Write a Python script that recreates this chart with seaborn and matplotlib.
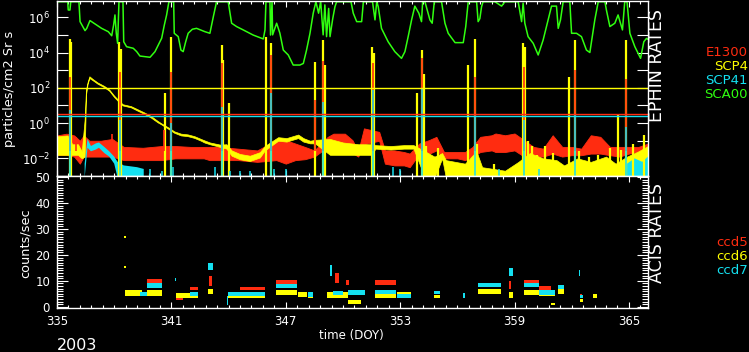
import numpy as np
import pandas as pd
import matplotlib
matplotlib.use("Agg")
import matplotlib.pyplot as plt
import seaborn as sns
from matplotlib.ticker import FixedLocator, MultipleLocator, FuncFormatter

# ---------------- data ----------------
# EPHIN SCA00 (green), log10 of particles/cm2 Sr s
sca00_doy = [335.0, 335.56, 335.59, 335.68, 335.72, 336.15, 336.21, 336.47, 336.56, 336.73,
             336.99, 337.34, 337.69, 337.87, 337.97, 338.04, 338.11, 338.18, 338.25, 338.46,
             338.50, 338.65, 339.0, 339.18, 339.35, 339.88, 340.14, 340.49, 340.63, 340.75,
             340.87, 341.12, 341.15, 341.36, 341.50, 341.62, 341.75, 341.88, 342.10, 342.32,
             342.76, 343.02, 343.20, 343.37, 343.98, 344.16, 344.42, 344.77, 345.29, 345.82,
             345.91, 345.96, 346.17, 346.20, 346.28, 346.31, 346.52, 346.69, 346.87, 347.13,
             347.39, 347.74, 347.92, 348.09, 348.27, 348.44, 348.58, 348.72, 348.83, 348.96,
             349.05, 349.14, 349.25, 349.32, 349.46, 349.58, 349.67, 350.42, 350.54, 350.72,
             350.98, 351.07, 351.55, 351.68, 351.77, 351.85, 352.02, 352.37, 352.72, 353.07,
             353.25, 353.42, 353.60, 353.77, 353.98, 354.12, 354.18, 354.30, 354.56, 354.68,
             354.79, 355.17, 355.35, 355.52, 355.88, 356.31, 356.44, 356.57, 357.01, 357.09,
             357.18, 357.27, 357.35, 357.97, 358.32, 358.49, 359.19, 359.37, 359.45, 359.54,
             359.71, 359.98, 360.24, 360.50, 360.76, 360.94, 361.20, 361.29, 361.41, 361.55,
             361.90, 361.99, 362.25, 362.51, 362.77, 362.95, 363.21, 363.39, 363.74, 363.82,
             364.00, 364.26, 364.43, 364.66, 364.78, 364.90, 365.05, 365.31, 365.61, 365.78,
             365.92, 366.0]
sca00_log = [6.88, 6.88, 6.41, 6.41, 6.88, 6.88, 5.75, 5.24, 5.37, 5.81,
             5.62, 5.37, 5.18, 4.95, 5.56, 6.13, 5.09, 4.52, 6.88, 6.88,
             4.61, 4.33, 4.24, 4.05, 3.80, 3.73, 4.05, 4.81, 5.56, 6.13,
             6.88, 6.88, 5.09, 4.90, 4.14, 4.05, 4.61, 5.09, 5.32, 5.37,
             5.18, 5.09, 6.03, 6.88, 6.88, 5.66, 5.47, 5.28, 4.99, 4.77,
             5.28, 6.88, 6.88, 4.99, 6.88, 5.00, 5.66, 5.10, 4.14, 3.86,
             3.29, 3.29, 3.38, 4.14, 5.09, 6.23, 6.88, 6.23, 6.88, 5.00,
             6.70, 4.90, 6.50, 4.90, 5.90, 6.60, 6.88, 6.88, 6.23, 5.75,
             5.75, 6.88, 6.88, 5.85, 6.88, 6.60, 5.37, 4.61, 4.05, 3.67,
             4.05, 4.90, 5.85, 6.63, 6.23, 5.75, 6.88, 6.88, 5.85, 5.66,
             6.88, 6.88, 5.66, 5.09, 4.56, 4.56, 5.47, 6.88, 6.88, 5.75,
             5.92, 6.60, 6.88, 6.88, 6.63, 6.88, 6.88, 5.75, 6.80, 5.66,
             4.90, 4.52, 3.86, 4.71, 5.85, 6.63, 6.63, 5.37, 5.85, 6.88,
             6.88, 5.09, 5.09, 4.90, 4.14, 4.00, 5.85, 6.88, 6.88, 6.40,
             5.47, 5.66, 6.13, 5.28, 6.88, 6.88, 5.09, 4.33, 3.67, 4.61,
             4.80, 4.75]

# E1300 (red) background band: time, low, high (log10)
e1300_doy = [335.0, 335.5, 335.9, 336.2, 336.4, 336.7, 337.3, 337.9, 338.5, 339.5, 340.5,
             341.2, 342.0, 342.7, 343.0, 343.5, 344.5, 345.5, 346.5, 347.0, 347.5, 348.0,
             348.5, 349.2, 349.5, 349.9, 350.1, 350.5, 350.8, 351.1, 351.9, 352.2, 352.7,
             353.2, 353.5, 354.0, 354.5, 354.9, 355.3, 356.0, 356.4, 356.8, 357.2, 357.8,
             358.0, 358.5, 359.0, 359.5, 360.0, 360.5, 361.0, 361.5, 362.0, 362.5, 363.0,
             363.5, 364.0, 364.5, 365.0, 365.5, 366.0]
e1300_lo = [-1.8, -1.8, -1.9, -2.3, -1.9, -1.9, -1.9, -1.9, -2.1, -2.1, -2.1,
            -2.0, -2.0, -2.0, -2.1, -2.1, -2.1, -2.2, -2.1, -2.3, -2.1, -2.05,
            -1.9, -1.35, -1.35, -1.35, -1.35, -1.7, -1.9, -1.2, -1.0, -2.3, -2.4,
            -2.4, -2.5, -1.75, -1.75, -1.55, -2.0, -2.0, -2.1, -1.9, -1.64, -1.55,
            -1.64, -1.64, -1.55, -1.9, -1.9, -1.9, -1.73, -1.9, -1.82, -1.82, -1.73,
            -1.73, -1.82, -1.9, -1.73, -1.64, -1.55]
e1300_hi = [-0.7, -0.6, -0.7, -1.0, -0.7, -1.0, -1.0, -0.9, -1.35, -1.4, -1.3,
            -1.3, -1.35, -1.35, -1.35, -1.35, -1.45, -1.55, -0.97, -0.97, -1.16, -1.35,
            -1.55, -0.78, -0.6, -0.6, -0.6, -0.97, -1.6, -0.3, -0.5, -1.55, -1.55,
            -1.64, -1.73, -1.16, -0.97, -0.78, -1.64, -1.64, -1.64, -1.35, -0.78, -0.69,
            -0.59, -0.69, -0.59, -0.97, -1.35, -1.45, -0.69, -1.35, -1.35, -1.45, -0.69,
            -0.78, -1.35, -1.35, -1.35, -1.35, -1.16]
e1300_spike_doy = [335.70, 336.0, 337.9, 338.30, 340.62, 341.00, 343.67, 346.25, 348.55, 348.97,
                   351.58, 354.16, 356.93, 359.50, 362.15, 364.87]
e1300_spike_log = [2.63, -0.8, -0.6, 2.91, -0.4, 2.91, 3.39, 3.86, 1.3, 3.5,
                   3.39, 3.67, 2.63, 3.2, 3.0, 2.5]

# SCP4 (yellow) band: time, low, high (log10)
scp4_doy = [335.0, 335.55, 335.8, 336.1, 336.3, 336.45, 336.52, 336.61, 336.70, 336.87,
            337.13, 337.48, 337.74, 338.0, 338.18, 338.44, 338.88, 339.23, 339.58, 339.93,
            340.28, 340.45, 340.89, 341.15, 341.5, 341.85, 342.2, 342.55, 342.73, 343.02,
            343.55, 343.89, 344.16, 344.59, 345.12, 345.64, 345.9, 346.6, 347.04, 347.65,
            347.92, 348.27, 348.53, 349.32, 350.0, 350.8, 351.5, 351.7, 352.5, 353.2,
            353.7, 354.3, 354.8, 355.2, 355.4, 356.4, 357.0, 357.3, 358.5, 359.2,
            359.8, 360.5, 361.2, 361.6, 362.3, 363.0, 363.8, 364.3, 364.9, 365.5, 366.0]
scp4_lo = [-1.8, -1.8, -1.8, -1.8, -2.0, -1.9, 1.6, 2.25, 2.55, 2.43,
           2.23, 2.03, 1.83, 1.47, 1.27, 1.0, 0.89, 0.70, 0.52, 0.31,
           0.04, -0.06, -0.36, -0.55, -0.7, -0.74, -0.84, -1.0, -1.1, -1.2,
           -1.35, -1.45, -1.85, -2.05, -2.15, -1.95, -1.55, -1.0, -1.05, -0.85,
           -1.05, -1.15, -1.15, -1.8, -1.8, -1.8, -1.8, -1.45, -1.5, -1.45,
           -1.45, -3.1, -3.1, -2.0, -3.1, -3.1, -3.1, -3.1, -3.1, -3.1,
           -3.1, -3.1, -3.1, -3.1, -3.1, -3.1, -3.1, -3.1, -3.1, -3.1, -3.1]
scp4_hi = [-0.75, -0.7, -1.2, -1.2, -1.6, 0.2, 1.9, 2.35, 2.65, 2.5,
           2.3, 2.1, 1.9, 1.55, 1.35, 1.07, 0.96, 0.78, 0.6, 0.4,
           0.12, 0.0, -0.28, -0.47, -0.6, -0.64, -0.74, -0.9, -0.98, -1.1,
           -1.22, -1.2, -1.55, -1.75, -1.85, -1.65, -1.3, -0.8, -0.85, -0.65,
           -0.85, -1.0, -0.95, -0.9, -1.1, -1.2, -1.2, -1.25, -1.3, -1.25,
           -1.25, -1.6, -1.9, -1.7, -2.1, -2.3, -1.6, -2.5, -2.7, -2.2,
           -1.7, -2.0, -2.1, -2.4, -2.0, -2.2, -1.9, -2.3, -1.9, -1.6, -1.3]
scp4_spike_doy = [335.68, 335.74, 338.25, 338.38, 340.66, 340.98, 343.64, 343.70, 344.04, 345.96,
                  346.25, 348.55, 348.95, 349.08, 351.54, 351.62, 353.86, 354.12, 354.26, 356.57,
                  356.93, 359.45, 359.55, 361.85, 362.15, 364.44, 364.85,
                  354.35, 355.0, 357.05, 357.9, 359.7, 359.9, 360.2, 360.6, 361.0, 362.4,
                  362.9, 363.4, 364.0, 364.6, 365.2, 365.8]
scp4_spike_log = [4.75, 4.6, 4.61, 4.2, 1.7, 4.9, 4.43, 3.6, 1.11, 4.9,
                  4.52, 3.48, 4.71, 3.3, 4.33, 4.0, 1.7, 4.14, 2.8, 3.3,
                  4.75, 4.52, 4.3, 2.63, 4.71, 0.5, 4.71,
                  -1.3, -1.4, -1.2, -2.3, -1.0, -1.3, -1.8, -1.3, -1.7, -1.6,
                  -1.9, -1.8, -1.4, -1.5, -1.2, -0.7]

# SCP41 (cyan) band: time, low, high (log10); NaN separates pieces
scp41_doy = [336.45, 336.6, 336.78, 337.04, 337.2, 337.48, 337.74, 338.0, 338.18, 338.5,
             339.2, 339.55, 339.6, 364.9, 365.3, 365.7, 366.0]
scp41_lo = [-3.1, -1.4, -1.6, -1.5, -1.4, -1.7, -1.9, -2.3, -3.1, -3.1,
            -3.1, -3.1, np.nan, -3.1, -3.1, -3.1, -3.1]
scp41_hi = [-2.3, -0.9, -1.3, -1.15, -1.1, -1.35, -1.6, -1.9, -2.2, -2.4,
            -2.5, -2.6, np.nan, -2.3, -2.0, -2.2, -1.9]
scp41_spike_doy = [335.70, 338.30, 341.00, 343.67, 346.25, 348.97, 351.58, 354.16, 356.93, 359.50,
                   362.15, 364.87, 339.9, 340.5, 341.1, 343.3, 344.1, 344.6, 345.1, 346.4,
                   347.0, 352.65, 353.0, 358.2, 360.3]
scp41_spike_log = [0.73, 0.16, 0.0, 0.92, 1.68, 1.2, 1.87, 1.99, 0.4, 0.16,
                   0.5, -0.2, -2.6, -2.7, -2.5, -2.5, -2.7, -2.7, -2.7, -2.6,
                   -2.6, -2.5, -2.6, -2.6, -2.6]

# limit lines
scp4_limit = 100.0
e1300_limit = 3.1
scp41_limit = 2.6

# ACIS rates (counts/sec) clusters: start, end, low, high
ccd5_start = [339.7, 341.22, 342.0, 342.95, 344.6, 346.48, 349.6, 350.15, 350.4, 351.7, 354.44, 358.7, 359.5, 360.3, 362.45]
ccd5_end = [340.49, 341.6, 342.4, 343.15, 345.9, 347.57, 349.8, 350.3, 350.9, 352.8, 354.47, 358.8, 360.3, 360.9, 362.55]
ccd5_lo = [8.3, 2.4, 6.3, 8.0, 6.3, 8.8, 9.0, 8.5, 1.5, 8.3, 5.5, 7.0, 9.0, 6.5, 4.0]
ccd5_hi = [10.8, 3.3, 7.8, 12.0, 7.8, 10.3, 13.0, 10.5, 2.0, 10.3, 6.5, 10.0, 10.5, 8.0, 5.0]

ccd6_start = [338.57, 339.7, 341.22, 342.93, 343.97, 346.48, 347.62, 348.16, 349.14, 350.24, 351.7, 352.86, 354.8,
              357.1, 358.7, 359.5, 360.3, 360.9, 361.3, 362.45, 363.1]
ccd6_end = [339.44, 340.49, 342.41, 343.2, 345.9, 347.57, 348.1, 348.43, 350.27, 350.97, 352.8, 353.56, 355.1,
            358.3, 358.9, 360.3, 361.1, 361.1, 361.6, 362.6, 363.3]
ccd6_lo = [4.0, 4.2, 3.5, 5.0, 3.5, 4.5, 3.8, 3.2, 3.5, 1.2, 3.2, 3.8, 3.2, 5.0, 3.5, 4.5, 4.0, 0.6, 5.0, 2.0, 3.5]
ccd6_hi = [6.5, 6.5, 5.3, 7.0, 5.5, 6.5, 5.5, 4.8, 5.5, 2.5, 4.8, 5.8, 4.5, 7.0, 5.5, 6.5, 6.0, 1.4, 7.0, 3.0, 5.0]
ccd6_pt_doy = [338.57, 338.57]
ccd6_pt_val = [27.0, 15.4]

ccd7_start = [339.35, 339.7, 341.2, 342.0, 342.93, 343.9, 343.97, 346.48, 348.1, 348.16, 349.3, 349.5, 350.24,
              351.7, 352.86, 354.44, 354.8, 356.3, 357.1, 358.7, 359.5, 360.3, 361.3, 362.4, 362.45]
ccd7_end = [339.70, 340.49, 341.24, 342.4, 343.2, 343.96, 345.9, 347.57, 348.13, 348.43, 349.42, 350.0, 351.15,
            352.8, 353.56, 354.47, 355.1, 356.4, 358.3, 358.9, 360.3, 361.1, 361.6, 362.45, 362.6]
ccd7_lo = [4.2, 7.2, 10.0, 4.3, 14.2, 0.5, 4.3, 7.3, 6.5, 3.8, 12.0, 4.5, 4.5,
           5.0, 3.5, 3.5, 5.0, 3.5, 7.5, 12.0, 7.5, 4.5, 7.0, 12.0, 3.5]
ccd7_hi = [5.6, 9.2, 11.0, 5.7, 16.8, 4.0, 5.8, 8.8, 7.5, 5.5, 16.0, 6.0, 6.5,
           6.5, 4.8, 5.5, 6.2, 5.2, 9.0, 15.0, 9.0, 6.5, 8.5, 14.0, 4.5]

tick_days = [335, 341, 347, 353, 359, 365]

# ---------------- style ----------------
sns.set_theme(style="dark")
plt.rcParams.update({
    "font.family": ["DejaVu Sans"],
    "mathtext.default": "regular",
    "axes.grid": False,
    "figure.facecolor": "black",
    "axes.facecolor": "black",
    "savefig.facecolor": "black",
    "text.color": "white",
})

RED = "#ff2c10"
YEL = "#ffff00"
CYN = "#14e0f0"
GRN = "#30ff10"

W, H = 749, 352
fig = plt.figure(figsize=(W / 100, H / 100), dpi=100)
ax1 = fig.add_axes([57 / W, 176 / H, 591 / W, 175 / H])
ax2 = fig.add_axes([57 / W, 44 / H, 591 / W, 132 / H])

for ax in (ax1, ax2):
    ax.set_facecolor("black")
    ax.grid(False)
    for s in ax.spines.values():
        s.set_color("white")
        s.set_linewidth(1.0)
        s.set_zorder(5)
    ax.set_xlim(335, 366)
    ax.xaxis.set_major_locator(FixedLocator(tick_days))
    ax.xaxis.set_minor_locator(FixedLocator(np.arange(335, 366.01, 0.6)))
    ax.tick_params(axis="x", which="both", direction="in", colors="white", top=True, bottom=True)
    ax.tick_params(axis="x", which="major", length=4.5, width=0.8)
    ax.tick_params(axis="x", which="minor", length=2.5, width=0.8)
    ax.tick_params(axis="y", which="both", direction="in", colors="white", left=True, right=True, width=0.8)
    ax.tick_params(labelsize=8.5, labelcolor="white", pad=5)

# ---------------- top panel: EPHIN ----------------
ax1.set_yscale("log")
ax1.set_ylim(1e-3, 10 ** 6.92)

ax1.fill_between(e1300_doy, 10 ** np.array(e1300_lo), 10 ** np.array(e1300_hi), color=RED, lw=0.6, ec=RED)
ax1.fill_between(scp4_doy, 10 ** np.array(scp4_lo), 10 ** np.array(scp4_hi), color=YEL, lw=0.5, ec=YEL)
ax1.fill_between(scp41_doy, 10 ** np.array(scp41_lo, dtype=float), 10 ** np.array(scp41_hi, dtype=float),
                 color=CYN, lw=0)
ax1.vlines(scp4_spike_doy, 1e-3, 10 ** np.array(scp4_spike_log), color=YEL, lw=1.6)
ax1.vlines(e1300_spike_doy, 10 ** -1.6, 10 ** np.array(e1300_spike_log), color=RED, lw=1.2)
ax1.vlines(scp41_spike_doy, 1e-3, 10 ** np.array(scp41_spike_log), color=CYN, lw=1.1)

green_df = pd.DataFrame({"doy": sca00_doy, "rate": 10 ** np.array(sca00_log)})
sns.lineplot(data=green_df, x="doy", y="rate", ax=ax1, color=GRN, lw=1.1, sort=False, estimator=None)

ax1.axhline(scp4_limit, color=YEL, lw=1.0)
ax1.axhline(scp41_limit, color=CYN, lw=1.0)
ax1.axhline(e1300_limit, color=RED, lw=1.0)

ax1.yaxis.set_major_locator(FixedLocator([10.0 ** k for k in range(-2, 7)]))
ax1.yaxis.set_minor_locator(FixedLocator([]))
ax1.yaxis.set_major_formatter(FuncFormatter(
    lambda v, p: (r"$10^{%d}$" % round(np.log10(v))) if round(np.log10(v)) % 2 == 0 else ""))
ax1.tick_params(axis="y", which="major", length=8)
ax1.tick_params(axis="x", labelbottom=False)
ax1.set_xlabel("")
ax1.set_ylabel("")

# ---------------- bottom panel: ACIS ----------------
ax2.set_ylim(-0.5, 50.5)
for st, en, lo, hi, col in [(ccd5_start, ccd5_end, ccd5_lo, ccd5_hi, RED),
                            (ccd6_start, ccd6_end, ccd6_lo, ccd6_hi, YEL),
                            (ccd7_start, ccd7_end, ccd7_lo, ccd7_hi, CYN)]:
    st = np.array(st); en = np.array(en); lo = np.array(lo); hi = np.array(hi)
    ax2.bar(st, hi - lo, width=en - st, bottom=lo, align="edge", color=col, lw=0)
ax2.scatter(ccd6_pt_doy, ccd6_pt_val, s=3, marker="s", color=YEL, lw=0)

ax2.yaxis.set_major_locator(MultipleLocator(10))
ax2.yaxis.set_minor_locator(MultipleLocator(1))
ax2.tick_params(axis="y", which="major", length=8)
ax2.tick_params(axis="y", which="minor", length=4.5)
ax2.set_xlabel("")
ax2.set_ylabel("")

# ---------------- texts ----------------
def fy(y):
    return 1 - y / H

fig.text(10 / W, fy(89), "particles/cm2 Sr s", rotation=90, ha="center", va="center", fontsize=9.3, color="white")
fig.text(25 / W, fy(243), "counts/sec", rotation=90, ha="center", va="center", fontsize=9.3, color="white")
fig.text(351 / W, fy(335), "time (DOY)", ha="center", va="center", fontsize=8.5, color="white")
fig.text(57 / W, fy(345), "2003", ha="left", va="center", fontsize=11.5, color="white")
fig.text(657 / W, fy(66), "EPHIN RATES", rotation=90, ha="center", va="center", fontsize=12.5, color="white")
fig.text(657 / W, fy(233), "ACIS RATES", rotation=90, ha="center", va="center", fontsize=12.5, color="white")

for label, col, y in [("E1300", RED, 53), ("SCP4", YEL, 67), ("SCP41", CYN, 81), ("SCA00", GRN, 95),
                      ("ccd5", RED, 242), ("ccd6", YEL, 256), ("ccd7", CYN, 270)]:
    fig.text(748 / W, fy(y), label, ha="right", va="center", fontsize=9.5, color=col)

fig.savefig("out.png", dpi=100, facecolor="black")
